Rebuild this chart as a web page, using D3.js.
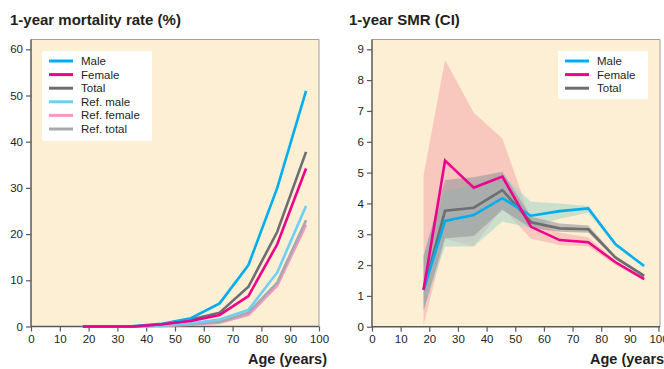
<!DOCTYPE html>
<html><head><meta charset="utf-8">
<script src="https://cdn.jsdelivr.net/npm/d3@7"></script>
<style>
html,body{margin:0;padding:0;background:#fff;}
svg{display:block;font-family:"Liberation Sans",Arial,sans-serif;}
</style></head>
<body>
<svg id="c" width="664" height="369"></svg>
<script>
// ---- data ----
const xTicks = [0,10,20,30,40,50,60,70,80,90,100];
const mortTicks = [0,10,20,30,40,50,60];
const smrTicks = [0,1,2,3,4,5,6,7,8,9];

const agesMort = [18, 25.5, 35.5, 45.5, 55.5, 65.5, 75.5, 85.5, 95.5];
const mortMale      = [0, 0, 0.1, 0.6, 1.8, 5.0, 13.3, 30.0, 51.0];
const mortFemale    = [0, 0, 0, 0.5, 1.2, 2.5, 6.6, 17.8, 34.2];
const mortTotal     = [0, 0, 0, 0.5, 1.5, 3.0, 8.6, 20.5, 37.8];
const mortRefMale   = [0, 0, 0, 0.2, 0.7, 1.5, 3.6, 11.7, 26.1];
const mortRefFemale = [0, 0, 0, 0.1, 0.4, 0.8, 2.5, 8.8, 22.0];
const mortRefTotal  = [0, 0, 0, 0.15, 0.5, 1.0, 3.0, 9.5, 23.0];

const agesSmr = [18, 25.5, 35.5, 45.5, 55.5, 65.5, 75.5, 85, 95];
const smrMale   = [1.19, 3.43, 3.62, 4.17, 3.6, 3.75, 3.84, 2.67, 1.97];
const smrFemale = [1.2, 5.39, 4.51, 4.87, 3.24, 2.81, 2.74, 2.09, 1.54];
const smrTotal  = [1.2, 3.76, 3.86, 4.43, 3.39, 3.19, 3.16, 2.24, 1.65];
const ciFemaleLo = [0.05, 2.85, 2.6, 3.85, 2.85, 2.65, 2.6, 2.0, 1.5];
const ciFemaleHi = [4.9, 8.65, 6.94, 6.11, 3.45, 3.05, 2.9, 2.15, 1.6];
const ciMaleLo   = [0.6, 2.6, 2.6, 3.41, 3.2, 3.5, 3.7, 2.62, 1.93];
const ciMaleHi   = [2.3, 4.4, 4.6, 4.92, 4.05, 4.0, 3.92, 2.72, 2.0];
const ciTotalLo  = [0.5, 2.87, 2.94, 3.79, 3.2, 3.08, 3.05, 2.2, 1.6];
const ciTotalHi  = [2.3, 4.76, 4.85, 5.03, 3.57, 3.35, 3.28, 2.3, 1.7];

const C = {male:"#00aeef", female:"#ec008c", total:"#6d6e71",
  refMale:"#6dcff6", refFemale:"#f49ac1", refTotal:"#a7a9ac",
  bg:"#fdefd3", text:"#231f20"};

const svg = d3.select("#c");

function panel(o){
  const g = svg.append("g");
  const x = d3.scaleLinear().domain([0,100]).range([o.x0,o.x1]);
  const y = d3.scaleLinear().domain([0,o.ymax]).range([o.y0,o.y1]);
  g.append("rect").attr("x",o.x0).attr("y",o.top).attr("width",o.right-o.x0).attr("height",o.y0-o.top)
    .attr("fill",C.bg);
  // top/right border
  g.append("path").attr("d",`M${o.x0},${o.top}H${o.right}V${o.y0}`).attr("fill","none")
    .attr("stroke","#a0a0a0").attr("stroke-width",1);
  g.append("text").attr("x",o.tx).attr("y",25).attr("font-size",15).attr("font-weight","bold")
    .attr("fill",C.text).text(o.title);
  // axes
  const ya = d3.axisLeft(y).tickValues(o.yticks).tickSize(5).tickPadding(3).tickFormat(d3.format("d"));
  const gy = g.append("g").attr("transform",`translate(${o.x0},0)`).call(ya);
  gy.select(".domain").attr("d",`M0,${o.top}V${o.y0}`);
  const xa = d3.axisBottom(x).tickValues(xTicks).tickSize(5).tickPadding(3).tickFormat(d3.format("d"));
  const gx = g.append("g").attr("transform",`translate(0,${o.y0})`).call(xa);
  gx.select(".domain").attr("d",`M${o.x0},0H${o.right}`);
  [gx,gy].forEach(a=>{
    a.selectAll(".domain").attr("stroke","#58595b").attr("stroke-width",1.5);
    a.selectAll(".tick line").attr("stroke","#58595b").attr("stroke-width",1.2);
    a.selectAll("text").attr("font-size",11.5).attr("fill",C.text)
      .attr("font-family","Liberation Sans, Arial, sans-serif");
  });
  g.append("text").attr("x",o.axr).attr("y",364).attr("text-anchor","end").attr("font-size",14.5)
    .attr("font-weight","bold").attr("fill",C.text).text("Age (years)");
  return {g,x,y};
}

function legend(g,x0,y0,w,h,items){
  g.append("rect").attr("x",x0).attr("y",y0).attr("width",w).attr("height",h).attr("fill","#fff");
  items.forEach((it,i)=>{
    const yy = y0+10+i*13.6;
    g.append("line").attr("x1",x0+7).attr("x2",x0+31).attr("y1",yy).attr("y2",yy)
      .attr("stroke",it[1]).attr("stroke-width",3);
    g.append("text").attr("x",x0+39).attr("y",yy+4).attr("font-size",11.5).attr("fill",C.text).text(it[0]);
  });
}

// ---- left panel ----
const L = panel({x0:31,x1:319,right:319,top:39.5,y0:326.5,y1:49.3,ymax:60,
  yticks:mortTicks,title:"1-year mortality rate (%)",tx:10,axr:327});
const lineL = (arr)=>d3.line().x((d,i)=>L.x(agesMort[i])).y(d=>L.y(d))(arr);
[[mortRefFemale,C.refFemale],[mortRefTotal,C.refTotal],[mortRefMale,C.refMale],
 [mortTotal,C.total],[mortMale,C.male],[mortFemale,C.female]].forEach(s=>{
  L.g.append("path").attr("d",lineL(s[0])).attr("fill","none").attr("stroke",s[1])
    .attr("stroke-width",2.6).attr("stroke-linejoin","miter");
});
legend(L.g,42,51,110,90,[["Male",C.male],["Female",C.female],["Total",C.total],
  ["Ref. male",C.refMale],["Ref. female",C.refFemale],["Ref. total",C.refTotal]]);

// ---- right panel ----
const R = panel({x0:372,x1:658.5,right:660,top:39.5,y0:326.7,y1:49.3,ymax:9,
  yticks:smrTicks,title:"1-year SMR (CI)",tx:349,axr:669});
const area = (lo,hi)=>d3.area().x((d,i)=>R.x(agesSmr[i])).y0((d,i)=>R.y(lo[i])).y1((d,i)=>R.y(hi[i]))(lo);
R.g.append("path").attr("d",area(ciFemaleLo,ciFemaleHi)).attr("fill","#f7bfb8").attr("opacity",0.85);
R.g.append("path").attr("d",area(ciMaleLo,ciMaleHi)).attr("fill","#a9d6c8").attr("opacity",0.6);
R.g.append("path").attr("d",area(ciTotalLo,ciTotalHi)).attr("fill","#8f8f99").attr("opacity",0.55);
const lineR = (arr)=>d3.line().x((d,i)=>R.x(agesSmr[i])).y(d=>R.y(d))(arr);
[[smrTotal,C.total],[smrMale,C.male],[smrFemale,C.female]].forEach(s=>{
  R.g.append("path").attr("d",lineR(s[0])).attr("fill","none").attr("stroke",s[1])
    .attr("stroke-width",2.6);
});
legend(R.g,558,51,90,48,[["Male",C.male],["Female",C.female],["Total",C.total]]);
</script>
</body></html>
